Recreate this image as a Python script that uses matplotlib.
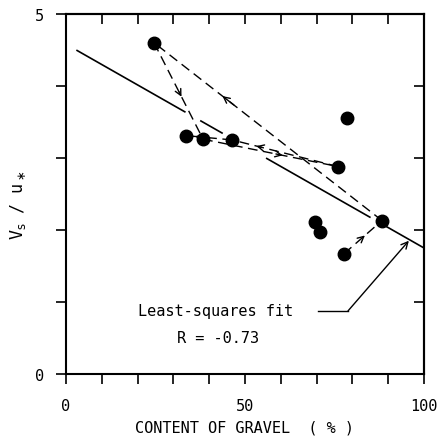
import numpy as np
import matplotlib
matplotlib.use('Agg')
import matplotlib.pyplot as plt

plt.rcParams['font.family'] = ['DejaVu Sans Mono']

# data
gravel = [24.6, 33.5, 38.3, 46.4, 76.0, 78.5, 88.3, 69.6, 71.0, 77.7]
vs_u = [4.60, 3.31, 3.26, 3.25, 2.88, 3.56, 2.13, 2.11, 1.97, 1.67]

# arrows between points: (from, to, where the head sits along the line)
moves = [(0, 2, 0.56), (6, 0, 0.70), (2, 4, 0.59), (4, 3, 0.77),
         (3, 1, 0.80), (9, 6, 0.55)]

# least-squares fit, drawn in pieces (gaps where dashed lines cross)
fit_slope = -0.0283
fit_intercept = 4.58
fit_pieces = [(3.1, 33.2), (37.7, 43.6), (56.1, 84.9), (89.7, 100.0)]

fig = plt.figure(figsize=(4.37, 4.39), dpi=100)
ax = fig.add_axes([0.151, 0.146, 0.819, 0.820])

for x0, x1 in fit_pieces:
    xx = np.array([x0, x1])
    ax.plot(xx, fit_intercept + fit_slope * xx, color='black', lw=1.2)

for i, j, f in moves:
    x0, y0 = gravel[i], vs_u[i]
    x1, y1 = gravel[j], vs_u[j]
    ax.plot([x0, x1], [y0, y1], color='black', lw=1.0, ls=(0, (7, 4)))
    hx, hy = x0 + f * (x1 - x0), y0 + f * (y1 - y0)
    bx, by = x0 + (f - 0.05) * (x1 - x0), y0 + (f - 0.05) * (y1 - y0)
    ax.annotate('', xy=(hx, hy), xytext=(bx, by),
                arrowprops=dict(arrowstyle='->', color='black', lw=1.0,
                                shrinkA=0, shrinkB=0, mutation_scale=11))

ax.plot(gravel, vs_u, 'o', color='black', ms=9, zorder=5)

# label with pointer to the fit line
ax.plot([70.4, 78.8], [0.875, 0.875], color='black', lw=1.0)
ax.annotate('', xy=(95.8, 1.85), xytext=(78.8, 0.875),
            arrowprops=dict(arrowstyle='->', color='black', lw=1.0,
                            shrinkA=0, shrinkB=0, mutation_scale=12))
ax.text(20.1, 0.875, 'Least-squares fit', fontsize=11, va='center')
ax.text(31.0, 0.51, 'R = -0.73', fontsize=11, va='center')

ax.set_xlim(0, 100)
ax.set_ylim(0, 5)
ax.set_xticks(range(0, 101, 10))
ax.set_xticklabels(['0', '', '', '', '', '50', '', '', '', '', '100'])
ax.set_yticks(range(0, 6))
ax.set_yticklabels(['0', '', '', '', '', '5'])
ax.tick_params(direction='out', length=7, width=1.2, labelsize=11, pad=10)
ax.tick_params(axis='y', pad=9)

top = ax.secondary_xaxis('top')
top.set_xticks(range(0, 101, 10))
top.tick_params(direction='in', length=7, width=1.2, labeltop=False)
right = ax.secondary_yaxis('right')
right.set_yticks(range(0, 6))
right.tick_params(direction='in', length=7, width=1.2, labelright=False)

for s in ax.spines.values():
    s.set_linewidth(1.5)
top.spines['top'].set_linewidth(1.5)
right.spines['right'].set_linewidth(1.5)

ax.set_xlabel('CONTENT OF GRAVEL  ( % )', fontsize=11, labelpad=5)
ax.set_ylabel(r'V$_\mathrm{s}$ / u$_\ast$', fontsize=12)
ax.yaxis.set_label_coords(-0.105, 0.47)

fig.savefig('out.png', dpi=100)
